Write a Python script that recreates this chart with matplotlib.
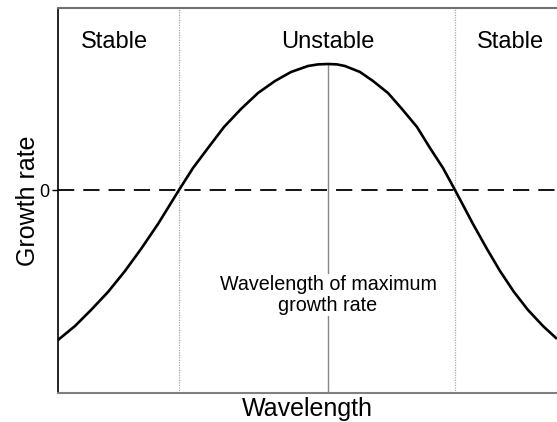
import matplotlib
matplotlib.use("Agg")
import matplotlib.pyplot as plt

plt.rcParams['font.family'] = ['Liberation Sans', 'DejaVu Sans']

# curve (wavelength, growth rate; arbitrary units)
wavelength = [0, 17, 33, 50, 67, 83, 100, 121, 135, 150, 166, 183, 200, 217,
              233, 250, 260, 270, 279, 287, 302, 315, 330, 344, 359, 372,
              385, 397, 415, 429, 442, 456, 470, 485, 498]
growth = [-150, -136, -120, -102, -81, -59, -34, 0, 22, 42, 63, 81, 97, 109,
          118, 124, 125.6, 126, 125.6, 124, 118, 109, 97, 81, 63, 42,
          22, 0, -34, -59, -81, -102, -120, -136, -148]

zero_left = 121
zero_right = 397
peak_x = 270
peak_y = 126

region_labels = ['Stable', 'Unstable', 'Stable']
region_x = [56, 270, 452]

fig = plt.figure(figsize=(5.57, 4.22), dpi=100)
ax = fig.add_axes([58 / 557, 29 / 422, 1 - 58 / 557, 385 / 422])

ax.plot(wavelength, growth, color='black', lw=1.9, solid_joinstyle='round', zorder=3)
ax.axhline(0, color='black', lw=1.3, dashes=(9, 5), zorder=2)
for xv in (zero_left, zero_right):
    ax.axvline(xv, color='#aaaaaa', lw=0.9, ls=(0, (1, 1)), zorder=1)
ax.plot([peak_x, peak_x], [-203, peak_y], color='#888888', lw=1.0, zorder=1)

for lab, xv in zip(region_labels, region_x):
    ax.text(xv, 148, lab, ha='center', va='center', fontsize=17)

ax.text(peak_x, -105, 'Wavelength of maximum\ngrowth rate', ha='center', va='center',
        fontsize=14.2, linespacing=1.08,
        bbox=dict(facecolor='white', edgecolor='none', pad=1), zorder=4)

ax.set_xlim(0, 499)
ax.set_ylim(-203, 182)
ax.set_xticks([])
ax.set_yticks([0])
ax.set_yticklabels(['0'], fontsize=13)
ax.tick_params(axis='y', length=4, width=1, pad=2)

ax.set_xlabel('Wavelength', fontsize=18, labelpad=3)
ax.set_ylabel('Growth rate', fontsize=18, labelpad=0)

ax.spines['right'].set_visible(False)
ax.spines['top'].set_color('#707070')
ax.spines['bottom'].set_color('#808080')
ax.spines['top'].set_linewidth(1.5)
ax.spines['bottom'].set_linewidth(1.5)
ax.spines['left'].set_color('black')
ax.spines['left'].set_linewidth(1.2)

fig.savefig('out.png', dpi=100)
